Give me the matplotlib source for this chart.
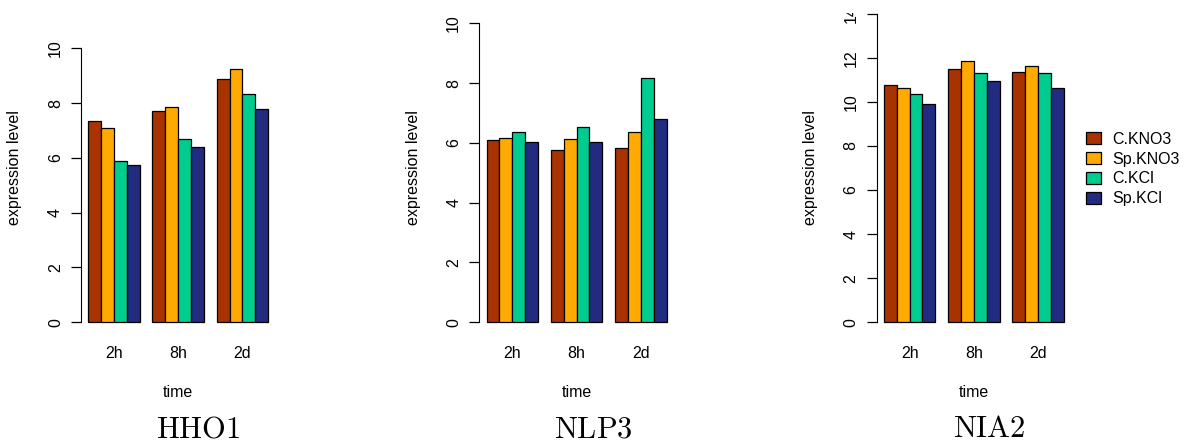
import numpy as np
import matplotlib
matplotlib.use("Agg")
import matplotlib.pyplot as plt
from matplotlib.patches import Patch
from matplotlib.transforms import Bbox

plt.rcParams['font.family'] = ['Liberation Sans', 'DejaVu Sans']
plt.rcParams['mathtext.fontset'] = 'cm'

# expression levels per gene, rows = time point, cols = condition
times = ['2h', '8h', '2d']
conditions = ['C.KNO3', 'Sp.KNO3', 'C.KCl', 'Sp.KCl']
colors = ['#A83300', '#FFAA00', '#00CC90', '#212B80']

hho1 = [[7.35, 7.10, 5.90, 5.75],
        [7.72, 7.85, 6.70, 6.38],
        [8.87, 9.25, 8.33, 7.80]]
nlp3 = [[6.10, 6.17, 6.37, 6.03],
        [5.75, 6.14, 6.54, 6.02],
        [5.83, 6.35, 8.18, 6.81]]
nia2 = [[10.76, 10.61, 10.37, 9.92],
        [11.50, 11.85, 11.31, 10.93],
        [11.34, 11.64, 11.31, 10.64]]

genes = ['HHO1', 'NLP3', 'NIA2']
values = [hho1, nlp3, nia2]
yticks = [np.arange(0, 11, 2), np.arange(0, 11, 2), np.arange(0, 15, 2)]
# pixels per unit on y, zero line sits 12.7 px above the box bottom
ppu = [27.4, 29.9, 22.05]

W, H = 1187, 445
fig = plt.figure(figsize=(W / 100, H / 100), dpi=100)

box_top, box_bot = 10, 335
lefts = [81, 479.3, 876.7]
aw = 194.4
fs = 11.5

for k in range(3):
    ax = fig.add_axes([lefts[k] / W, 1 - box_bot / H, aw / W, (box_bot - box_top) / H])
    data = np.array(values[k])
    for g in range(3):
        for j in range(4):
            ax.bar(1 + g * 5 + j, data[g, j], width=1, align='edge',
                   color=colors[j], edgecolor='black', linewidth=0.9)
    ax.set_xlim(0.44, 15.56)
    zero = box_bot - 322.3
    ax.set_ylim(-zero / ppu[k], (322.3 - box_top) / ppu[k])

    for s in ['top', 'right', 'bottom']:
        ax.spines[s].set_visible(False)
    ax.spines['left'].set_bounds(0, yticks[k][-1])
    ax.set_yticks(yticks[k])
    ax.tick_params(axis='y', length=7, width=0.9, pad=6, labelsize=fs)
    for lbl in ax.get_yticklabels():
        lbl.set_rotation(90)
        lbl.set_va('center')
    ax.set_xticks([3, 8, 13])
    ax.set_xticklabels(times)
    ax.tick_params(axis='x', length=0, pad=8, labelsize=fs)

    ax.set_xlabel('time', fontsize=fs, labelpad=17)
    ax.set_ylabel('expression level', fontsize=fs)
    ax.yaxis.set_label_coords(-66 / aw, (box_bot - 167.5) / (box_bot - box_top))
    ax.yaxis.label.set_va('center')

    fig.text((k + 0.5) / 3, 1 - 429 / H, r'$\mathrm{' + genes[k] + '}$',
             ha='center', va='center', fontsize=22)

    if k == 2:
        # top tick label is cut at the upper edge of the device
        clip = Bbox.from_extents(0, 0, W, H - 12.5)
        for lbl in ax.get_yticklabels():
            lbl.set_clip_box(clip)
            lbl.set_clip_on(True)
        handles = [Patch(facecolor=c, edgecolor='black', linewidth=0.9) for c in colors]
        ax.legend(handles, conditions, loc='center left',
                  bbox_to_anchor=(1072 / W, 1 - 169 / H), bbox_transform=fig.transFigure,
                  frameon=False, fontsize=fs, handlelength=0.9, handleheight=0.8,
                  handletextpad=0.7, labelspacing=0.3)

fig.savefig('out.png', dpi=100)
